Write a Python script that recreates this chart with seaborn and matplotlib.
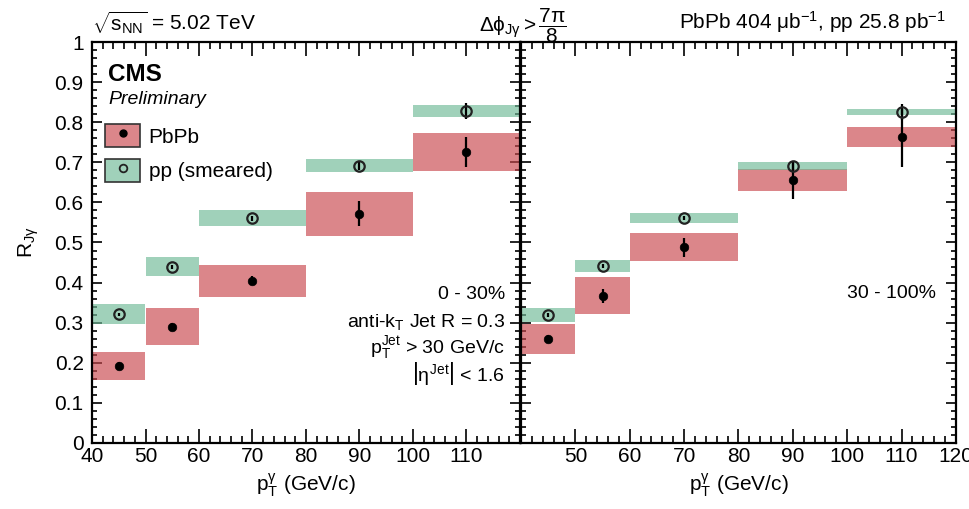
import numpy as np
import pandas as pd
import matplotlib
matplotlib.use("Agg")
import matplotlib.pyplot as plt
import seaborn as sns
from matplotlib.patches import Patch
from matplotlib.lines import Line2D
from matplotlib.legend_handler import HandlerTuple
from matplotlib.ticker import MultipleLocator, FixedLocator, FixedFormatter, FuncFormatter

# ─── Data ────────────────────────────────────────────────────────────────────
BIN_LO = [40, 50, 60, 80, 100]
BIN_HI = [50, 60, 80, 100, 120]
BIN_CENTER = [45, 55, 70, 90, 110]

# centrality 0-30%
PBPB_0_30 = [0.193, 0.290, 0.405, 0.572, 0.725]
PBPB_0_30_STAT = [0.008, 0.010, 0.012, 0.031, 0.037]
PBPB_0_30_SYS = [0.035, 0.046, 0.040, 0.055, 0.047]
PP_0_30 = [0.321, 0.440, 0.560, 0.692, 0.828]
PP_0_30_STAT = [0.004, 0.005, 0.006, 0.010, 0.020]
PP_0_30_SYS = [0.025, 0.023, 0.020, 0.016, 0.014]

# centrality 30-100%
PBPB_30_100 = [0.259, 0.367, 0.488, 0.656, 0.763]
PBPB_30_100_STAT = [0.010, 0.018, 0.024, 0.048, 0.074]
PBPB_30_100_SYS = [0.037, 0.046, 0.035, 0.028, 0.024]
PP_30_100 = [0.319, 0.442, 0.561, 0.691, 0.825]
PP_30_100_STAT = [0.004, 0.005, 0.006, 0.010, 0.020]
PP_30_100_SYS = [0.018, 0.015, 0.012, 0.010, 0.008]

RED = "#c8464b"
GREEN = "#6eb996"
BOX_ALPHA = 0.65

W, H = 970, 509


def px(x, y):
    """pixel position -> figure fraction"""
    return x / W, 1 - y / H


def make_frame(val, stat, sys_):
    return pd.DataFrame({
        "lo": BIN_LO, "hi": BIN_HI, "center": BIN_CENTER,
        "val": val, "stat": stat, "sys": sys_,
    })


sns.set_theme(style="ticks")
plt.rcParams["font.family"] = ["Liberation Sans", "DejaVu Sans"]
plt.rcParams["mathtext.fontset"] = "custom"
plt.rcParams["mathtext.rm"] = "Liberation Sans"
plt.rcParams["mathtext.it"] = "Liberation Sans"
plt.rcParams["mathtext.bf"] = "Liberation Sans:bold"
plt.rcParams["text.color"] = "black"
plt.rcParams["axes.labelcolor"] = "black"
plt.rcParams["xtick.color"] = "black"
plt.rcParams["ytick.color"] = "black"

FS = 15


def draw_panel(ax, pb, pp):
    ax.bar(pb["center"], 2 * pb["sys"], bottom=pb["val"] - pb["sys"],
           width=pb["hi"] - pb["lo"], color=RED, alpha=BOX_ALPHA, lw=0, zorder=1)
    ax.bar(pp["center"], 2 * pp["sys"], bottom=pp["val"] - pp["sys"],
           width=pp["hi"] - pp["lo"], color=GREEN, alpha=BOX_ALPHA, lw=0, zorder=2)

    ax.errorbar(pp["center"], pp["val"], yerr=pp["stat"], fmt="none",
                ecolor="black", elinewidth=1.6, capsize=0, zorder=3)
    ax.errorbar(pb["center"], pb["val"], yerr=pb["stat"], fmt="none",
                ecolor="black", elinewidth=1.6, capsize=0, zorder=3)

    ax.plot(pp["center"], pp["val"], ls="none", marker="o", ms=7.5,
            mfc="none", mec="#222222", mew=1.6, zorder=4)
    sns.scatterplot(data=pb, x="center", y="val", ax=ax, color="black",
                    s=38, edgecolor="black", linewidth=0.5, zorder=5, legend=False)

    ax.set_xlim(40, 120)
    ax.set_ylim(0, 1)
    ax.xaxis.set_major_locator(MultipleLocator(10))
    ax.xaxis.set_minor_locator(MultipleLocator(2))
    ax.yaxis.set_major_locator(MultipleLocator(0.1))
    ax.yaxis.set_minor_locator(MultipleLocator(0.02))
    ax.tick_params(which="both", direction="in", top=True, right=True,
                   width=1.2, colors="black", labelsize=FS)
    ax.tick_params(axis="x", which="major", length=10, pad=3)
    ax.tick_params(axis="x", which="minor", length=5)
    ax.tick_params(axis="y", which="major", length=7.5, pad=6)
    ax.tick_params(axis="y", which="minor", length=3.8)
    for sp in ax.spines.values():
        sp.set_linewidth(1.6)
        sp.set_color("black")
    ax.set_xlabel(r"p$_{\mathrm{T}}^{\gamma}$ (GeV/c)", fontsize=FS, labelpad=4)
    ax.set_ylabel("")


fig = plt.figure(figsize=(W / 100, H / 100), dpi=100)
ax_l = fig.add_axes([92 / W, 1 - 443 / H, 428 / W, 401 / H])
ax_r = fig.add_axes([521 / W, 1 - 443 / H, 435 / W, 401 / H])

draw_panel(ax_l, make_frame(PBPB_0_30, PBPB_0_30_STAT, PBPB_0_30_SYS),
           make_frame(PP_0_30, PP_0_30_STAT, PP_0_30_SYS))
draw_panel(ax_r, make_frame(PBPB_30_100, PBPB_30_100_STAT, PBPB_30_100_SYS),
           make_frame(PP_30_100, PP_30_100_STAT, PP_30_100_SYS))

xt = list(range(40, 121, 10))
ax_l.xaxis.set_major_locator(FixedLocator(xt))
ax_l.xaxis.set_major_formatter(FixedFormatter([str(v) for v in xt[:-1]] + [""]))
ax_r.xaxis.set_major_locator(FixedLocator(xt))
ax_r.xaxis.set_major_formatter(FixedFormatter([""] + [str(v) for v in xt[1:]]))
ax_l.yaxis.set_major_formatter(FuncFormatter(
    lambda v, _: "0" if abs(v) < 1e-9 else ("1" if abs(v - 1) < 1e-9 else f"{v:.1f}")))
ax_r.tick_params(axis="y", labelleft=False)

ax_l.set_ylabel(r"R$_{\mathrm{J\gamma}}$", fontsize=FS, labelpad=10)

# legend: coloured box with black outline, marker drawn on top
leg_handles = [
    (Patch(facecolor=RED, alpha=BOX_ALPHA, edgecolor="none"),
     Patch(facecolor="none", edgecolor="#333333", lw=1.2),
     Line2D([], [], ls="none", marker="o", ms=5, color="black")),
    (Patch(facecolor=GREEN, alpha=BOX_ALPHA, edgecolor="none"),
     Patch(facecolor="none", edgecolor="#333333", lw=1.2),
     Line2D([], [], ls="none", marker="o", ms=5.5, mfc="none", mec="#222222", mew=1.3)),
]
fig.legend(leg_handles, ["PbPb", "pp (smeared)"],
           handler_map={tuple: HandlerTuple(ndivide=1, pad=0)},
           loc="upper left", bbox_to_anchor=px(105, 124), frameon=False,
           fontsize=FS, handlelength=1.7, handleheight=1.35,
           labelspacing=0.55, handletextpad=0.4, borderpad=0, borderaxespad=0)

# header texts
fig.text(*px(92, 30), r"$\sqrt{\mathrm{s}_{\mathrm{NN}}}$ = 5.02 TeV", fontsize=FS,
         ha="left", va="baseline")
fig.text(*px(523, 32), r"$\Delta\phi_{\mathrm{J\gamma}} > \dfrac{7\pi}{8}$", fontsize=FS,
         ha="center", va="baseline", zorder=0)
fig.text(*px(946, 29), r"PbPb 404 $\mu$b$^{-1}$, pp 25.8 pb$^{-1}$", fontsize=FS,
         ha="right", va="baseline")

fig.text(*px(108, 81), "CMS", fontsize=17.5, fontweight="bold", ha="left", va="baseline")
fig.text(*px(108, 104), "Preliminary", fontsize=14, fontstyle="italic",
         ha="left", va="baseline")

# panel annotations
fig.text(*px(505, 299), "0 - 30%", fontsize=14, ha="right", va="baseline")
fig.text(*px(505, 327), r"anti-k$_{\mathrm{T}}$ Jet R = 0.3", fontsize=14,
         ha="right", va="baseline")
fig.text(*px(505, 353), r"p$_{\mathrm{T}}^{\mathrm{Jet}}$ > 30 GeV/c", fontsize=14,
         ha="right", va="baseline")
fig.text(*px(505, 381), r"$\left|\eta^{\mathrm{Jet}}\right|$ < 1.6", fontsize=14,
         ha="right", va="baseline")
fig.text(*px(936, 298), "30 - 100%", fontsize=14, ha="right", va="baseline")

fig.savefig("out.png", dpi=100)
